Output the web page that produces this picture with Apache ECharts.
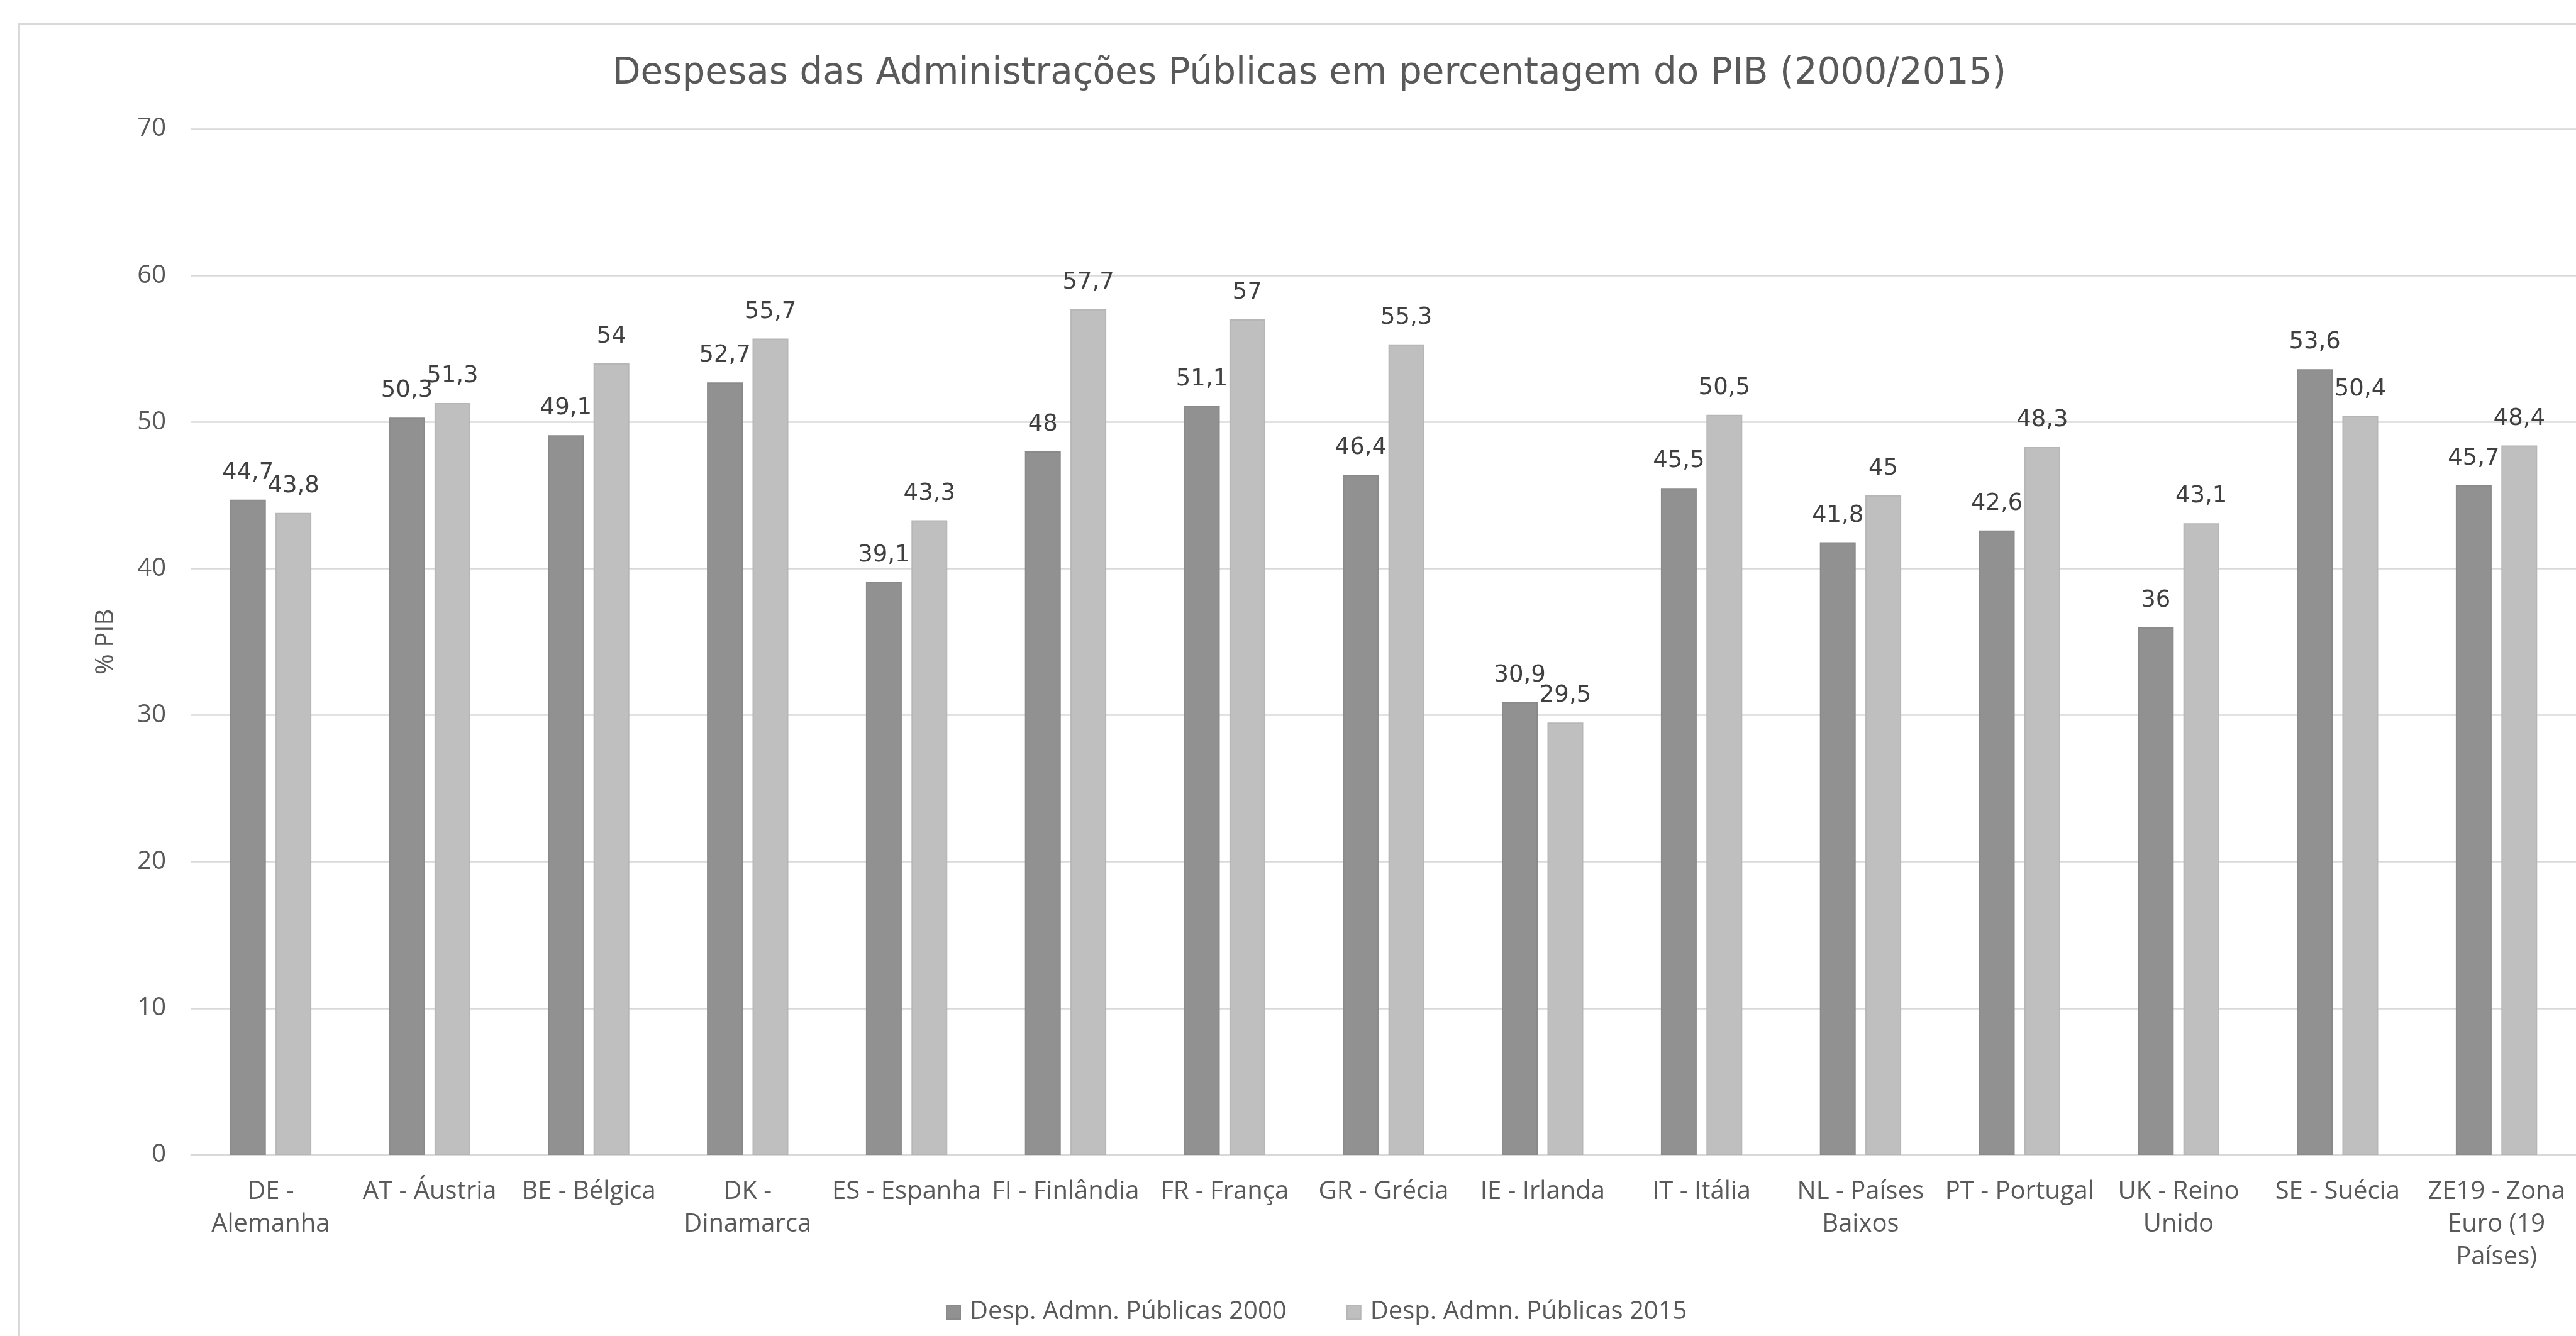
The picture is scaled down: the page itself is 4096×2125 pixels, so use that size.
<!DOCTYPE html>
<html>
<head>
<meta charset="utf-8">
<script src="https://cdn.jsdelivr.net/npm/echarts@6/dist/echarts.min.js"></script>
<style>
  html, body { margin: 0; padding: 0; background: #fff; }
  #chart { width: 4096px; height: 2125px; }
</style>
</head>
<body>
<div id="chart"></div>
<script>
// categorias (eixo X)
const paises = [
  'DE -\nAlemanha', 'AT - Áustria', 'BE - Bélgica', 'DK -\nDinamarca', 'ES - Espanha',
  'FI - Finlândia', 'FR - França', 'GR - Grécia', 'IE - Irlanda', 'IT - Itália',
  'NL - Países\nBaixos', 'PT - Portugal', 'UK - Reino\nUnido', 'SE - Suécia',
  'ZE19 - Zona\nEuro (19\nPaíses)'
];
const despesas2000 = [44.7, 50.3, 49.1, 52.7, 39.1, 48, 51.1, 46.4, 30.9, 45.5, 41.8, 42.6, 36, 53.6, 45.7];
const despesas2015 = [43.8, 51.3, 54, 55.7, 43.3, 57.7, 57, 55.3, 29.5, 50.5, 45, 48.3, 43.1, 50.4, 48.4];
const nomesSeries = ['Desp. Admn. Públicas 2000', 'Desp. Admn. Públicas 2015'];
const yTicks = { min: 0, max: 70, interval: 10 };

const chart = echarts.init(document.getElementById('chart'));

const labelTopo = {
  show: true,
  position: 'top',
  distance: 24,
  color: '#404040',
  fontFamily: 'DejaVu Sans',
  fontSize: 37,
  formatter: p => String(p.value).replace('.', ',')
};

chart.setOption({
  backgroundColor: '#fff',
  animation: false,
  textStyle: { fontFamily: 'Open Sans' },
  graphic: [{
    type: 'rect',
    left: 28, top: 35,
    shape: { width: 5000, height: 5000 },
    style: { fill: 'none', stroke: '#d9d9d9', lineWidth: 3 },
    silent: true
  }],
  title: {
    text: 'Despesas das Administrações Públicas em percentagem do PIB (2000/2015)',
    left: 2077,
    top: 84,
    textAlign: 'center',
    textStyle: { fontFamily: 'DejaVu Sans', fontSize: 58, fontWeight: 'normal', color: '#595959' }
  },
  legend: {
    data: nomesSeries,
    left: 1499,
    top: 2062,
    itemWidth: 22,
    itemHeight: 22,
    itemGap: 95,
    icon: 'rect',
    textStyle: { fontFamily: 'Open Sans', fontSize: 40, color: '#595959', padding: [0, 0, 0, 10] }
  },
  grid: { left: 304, right: -17, top: 205, bottom: 288, containLabel: false },
  xAxis: {
    type: 'category',
    data: paises,
    axisTick: { show: false },
    axisLine: { lineStyle: { color: '#d9d9d9', width: 3 } },
    axisLabel: {
      interval: 0,
      margin: 33,
      color: '#595959',
      fontFamily: 'Open Sans',
      fontSize: 40,
      lineHeight: 52
    }
  },
  yAxis: {
    type: 'value',
    min: yTicks.min,
    max: yTicks.max,
    interval: yTicks.interval,
    name: '% PIB',
    nameLocation: 'middle',
    nameGap: 115,
    nameTextStyle: { fontFamily: 'Open Sans', fontSize: 40, color: '#595959' },
    axisLine: { show: false },
    axisTick: { show: false },
    axisLabel: { margin: 40, color: '#595959', fontFamily: 'Open Sans', fontSize: 40 },
    splitLine: { lineStyle: { color: '#d9d9d9', width: 2.5 } }
  },
  series: [
    {
      name: nomesSeries[0],
      type: 'bar',
      data: despesas2000,
      barWidth: 57,
      barGap: '27%',
      itemStyle: { color: '#919191', borderColor: '#8a8a8a', borderWidth: 2 },
      label: labelTopo
    },
    {
      name: nomesSeries[1],
      type: 'bar',
      data: despesas2015,
      barWidth: 57,
      barGap: '27%',
      itemStyle: { color: '#bfbfbf', borderColor: '#b6b6b6', borderWidth: 2 },
      label: labelTopo
    }
  ]
});
</script>
</body>
</html>
